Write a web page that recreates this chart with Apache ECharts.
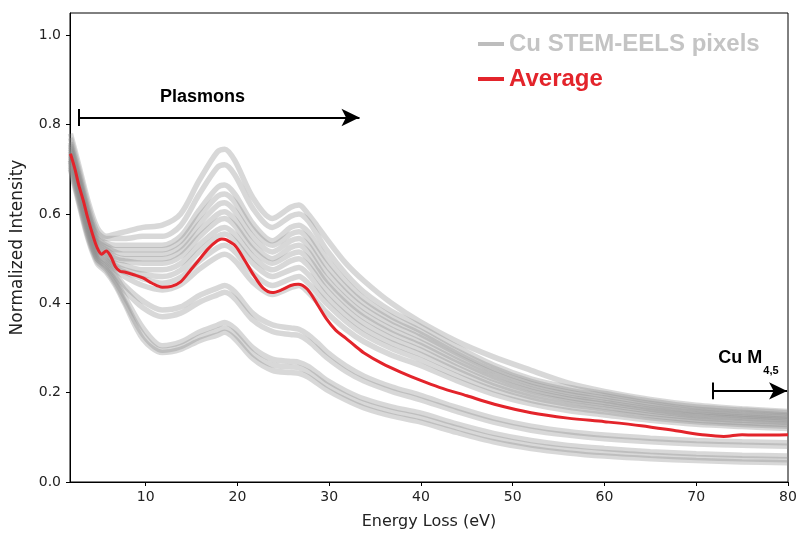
<!DOCTYPE html>
<html><head><meta charset="utf-8">
<script src="https://cdn.jsdelivr.net/npm/echarts@6/dist/echarts.min.js"></script>
<style>html,body{margin:0;padding:0;background:#fff}#c{width:800px;height:533px}</style>
</head><body><div id="c"></div>
<script>
// Energy grid (eV) of the individual pixel spectra
const energy = [1.8, 2.7, 3.7, 4.7, 5.7, 6.7, 7.7, 9.7, 11.8, 13.8, 15.8, 17.8, 18.6, 19.7, 21.7, 23.8, 25.8, 26.7, 27.7, 28.7, 29.7, 31.8, 33.8, 36.8, 39.8, 43.9, 47.9, 52, 56, 60, 65, 70, 75, 80];
// Normalized intensity of individual Cu STEM-EELS pixel spectra
const pixel01 = [0.78, 0.71, 0.63, 0.57, 0.55, 0.555, 0.56, 0.57, 0.575, 0.60, 0.674, 0.739, 0.745, 0.72, 0.636, 0.59, 0.615, 0.62, 0.60, 0.573, 0.545, 0.49, 0.45, 0.40, 0.36, 0.315, 0.28, 0.25, 0.222, 0.203, 0.185, 0.172, 0.164, 0.158];
const pixel02 = [0.77, 0.70, 0.62, 0.56, 0.545, 0.545, 0.545, 0.55, 0.55, 0.574, 0.643, 0.704, 0.71, 0.688, 0.612, 0.57, 0.595, 0.60, 0.585, 0.553, 0.52, 0.466, 0.425, 0.382, 0.35, 0.303, 0.262, 0.231, 0.212, 0.198, 0.181, 0.168, 0.161, 0.155];
const pixel03 = [0.76, 0.69, 0.61, 0.55, 0.535, 0.53, 0.53, 0.53, 0.53, 0.55, 0.608, 0.659, 0.665, 0.645, 0.578, 0.54, 0.57, 0.575, 0.56, 0.53, 0.50, 0.449, 0.41, 0.37, 0.34, 0.294, 0.255, 0.225, 0.206, 0.193, 0.176, 0.163, 0.156, 0.15];
const pixel04 = [0.755, 0.685, 0.605, 0.545, 0.53, 0.52, 0.52, 0.52, 0.52, 0.539, 0.593, 0.639, 0.645, 0.627, 0.565, 0.53, 0.555, 0.56, 0.545, 0.515, 0.485, 0.436, 0.40, 0.362, 0.333, 0.288, 0.249, 0.22, 0.201, 0.188, 0.172, 0.159, 0.152, 0.147];
const pixel05 = [0.75, 0.68, 0.60, 0.54, 0.525, 0.515, 0.51, 0.51, 0.51, 0.527, 0.577, 0.619, 0.625, 0.607, 0.548, 0.515, 0.54, 0.545, 0.53, 0.50, 0.47, 0.424, 0.389, 0.353, 0.325, 0.281, 0.243, 0.214, 0.196, 0.183, 0.167, 0.156, 0.149, 0.144];
const pixel06 = [0.745, 0.675, 0.595, 0.535, 0.52, 0.505, 0.50, 0.50, 0.50, 0.516, 0.561, 0.599, 0.605, 0.588, 0.532, 0.50, 0.525, 0.53, 0.515, 0.485, 0.455, 0.41, 0.377, 0.342, 0.315, 0.273, 0.236, 0.208, 0.19, 0.178, 0.163, 0.151, 0.145, 0.14];
const pixel07 = [0.74, 0.67, 0.59, 0.53, 0.515, 0.50, 0.495, 0.49, 0.49, 0.505, 0.548, 0.584, 0.59, 0.574, 0.52, 0.49, 0.51, 0.515, 0.50, 0.473, 0.445, 0.401, 0.368, 0.333, 0.307, 0.266, 0.23, 0.203, 0.186, 0.174, 0.159, 0.148, 0.142, 0.137];
const pixel08 = [0.735, 0.665, 0.585, 0.525, 0.51, 0.49, 0.485, 0.475, 0.475, 0.489, 0.53, 0.564, 0.57, 0.555, 0.504, 0.475, 0.495, 0.50, 0.485, 0.458, 0.43, 0.387, 0.355, 0.322, 0.297, 0.257, 0.222, 0.196, 0.18, 0.168, 0.154, 0.144, 0.138, 0.133];
const pixel09 = [0.73, 0.66, 0.58, 0.52, 0.505, 0.485, 0.475, 0.465, 0.46, 0.474, 0.515, 0.549, 0.555, 0.54, 0.489, 0.46, 0.475, 0.48, 0.465, 0.44, 0.415, 0.374, 0.343, 0.311, 0.287, 0.249, 0.215, 0.19, 0.174, 0.163, 0.149, 0.139, 0.133, 0.129];
const pixel10 = [0.725, 0.655, 0.575, 0.515, 0.50, 0.48, 0.47, 0.455, 0.445, 0.458, 0.494, 0.524, 0.53, 0.516, 0.467, 0.44, 0.455, 0.46, 0.445, 0.423, 0.40, 0.36, 0.33, 0.299, 0.275, 0.238, 0.207, 0.183, 0.168, 0.157, 0.144, 0.135, 0.129, 0.125];
const pixel11 = [0.72, 0.65, 0.57, 0.51, 0.495, 0.475, 0.46, 0.44, 0.43, 0.442, 0.476, 0.504, 0.51, 0.496, 0.447, 0.42, 0.435, 0.44, 0.425, 0.403, 0.38, 0.342, 0.314, 0.284, 0.262, 0.227, 0.197, 0.175, 0.16, 0.15, 0.138, 0.129, 0.124, 0.12];
const pixel12 = [0.72, 0.645, 0.565, 0.505, 0.49, 0.465, 0.44, 0.405, 0.385, 0.392, 0.417, 0.434, 0.44, 0.426, 0.377, 0.352, 0.345, 0.342, 0.33, 0.312, 0.292, 0.26, 0.237, 0.213, 0.195, 0.167, 0.143, 0.125, 0.113, 0.105, 0.098, 0.093, 0.09, 0.088];
const pixel13 = [0.715, 0.64, 0.56, 0.50, 0.485, 0.46, 0.43, 0.39, 0.37, 0.378, 0.402, 0.419, 0.425, 0.411, 0.362, 0.337, 0.33, 0.328, 0.316, 0.298, 0.279, 0.248, 0.226, 0.203, 0.185, 0.158, 0.134, 0.116, 0.105, 0.097, 0.09, 0.085, 0.082, 0.08];
const pixel14 = [0.71, 0.635, 0.555, 0.50, 0.48, 0.45, 0.415, 0.345, 0.305, 0.313, 0.335, 0.351, 0.357, 0.344, 0.30, 0.275, 0.27, 0.268, 0.259, 0.244, 0.228, 0.204, 0.186, 0.168, 0.155, 0.13, 0.109, 0.093, 0.082, 0.075, 0.068, 0.063, 0.06, 0.058];
const pixel15 = [0.705, 0.63, 0.55, 0.495, 0.475, 0.445, 0.405, 0.33, 0.295, 0.303, 0.324, 0.339, 0.345, 0.332, 0.287, 0.262, 0.258, 0.256, 0.247, 0.233, 0.218, 0.194, 0.176, 0.158, 0.145, 0.121, 0.099, 0.083, 0.073, 0.066, 0.06, 0.055, 0.052, 0.05];
const pixel16 = [0.70, 0.625, 0.545, 0.49, 0.47, 0.44, 0.40, 0.32, 0.29, 0.297, 0.316, 0.329, 0.335, 0.321, 0.276, 0.25, 0.245, 0.243, 0.235, 0.221, 0.207, 0.184, 0.166, 0.148, 0.135, 0.111, 0.09, 0.075, 0.065, 0.058, 0.052, 0.048, 0.045, 0.043];
const pixelSpectra = [pixel01, pixel02, pixel03, pixel04, pixel05, pixel06, pixel07, pixel08, pixel09, pixel10, pixel11, pixel12, pixel13, pixel14, pixel15, pixel16];

// Average spectrum
const avgEnergy = [1.8, 2.3, 2.7, 3.2, 3.7, 4.2, 4.7, 5.2, 5.7, 6.2, 6.7, 7.2, 7.7, 8.7, 9.7, 10.7, 11.8, 12.8, 13.8, 14.8, 15.8, 16.8, 17.8, 18.3, 18.8, 19.8, 20.8, 21.8, 22.8, 23.8, 24.8, 25.8, 26.6, 27.6, 28.7, 29.7, 30.7, 31.8, 32.8, 33.8, 35.8, 37.9, 39.9, 42, 45, 48, 52, 56, 60, 64, 68, 71, 73, 75, 77, 80];
const average = [0.735, 0.70, 0.665, 0.63, 0.59, 0.555, 0.525, 0.51, 0.517, 0.505, 0.482, 0.472, 0.47, 0.464, 0.457, 0.445, 0.436, 0.438, 0.448, 0.472, 0.497, 0.522, 0.54, 0.544, 0.542, 0.528, 0.496, 0.462, 0.434, 0.424, 0.43, 0.44, 0.443, 0.432, 0.398, 0.365, 0.34, 0.322, 0.305, 0.289, 0.265, 0.245, 0.228, 0.212, 0.193, 0.174, 0.155, 0.143, 0.135, 0.126, 0.114, 0.105, 0.102, 0.106, 0.105, 0.106];

const xTicks = [10, 20, 30, 40, 50, 60, 70, 80];
const yTicks = [0, 0.2, 0.4, 0.6, 0.8, 1.0];

const chart = echarts.init(document.getElementById('c'), null, {renderer: 'canvas'});
const RED = '#e3242b';
const series = pixelSpectra.map(s => ({
  type: 'line', name: 'Cu STEM-EELS pixels',
  data: energy.map((e, i) => [e, s[i]]),
  showSymbol: false, smooth: 0.3, silent: true, z: 2,
  lineStyle: {color: 'rgba(140,140,140,0.34)', width: 5.5},
  itemStyle: {color: '#bdbdbd'},
  emphasis: {disabled: true}
}));
series.push({
  type: 'line', name: 'Average',
  data: avgEnergy.map((e, i) => [e, average[i]]),
  showSymbol: false, smooth: 0.3, z: 5, silent: true,
  lineStyle: {color: RED, width: 3},
  itemStyle: {color: RED},
  emphasis: {disabled: true},
  markLine: {
    silent: true, animation: false,
    lineStyle: {color: '#000', width: 2, type: 'solid'},
    label: {show: false},
    symbolSize: [13, 18],
    data: [
      [{coord: [2.7, 0.816], symbol: 'none'}, {coord: [33.3, 0.816], symbol: 'arrow'}],
      [{coord: [2.7, 0.797], symbol: 'none'}, {coord: [2.7, 0.835], symbol: 'none'}],
      [{coord: [71.8, 0.204], symbol: 'none'}, {coord: [79.9, 0.204], symbol: 'arrow'}],
      [{coord: [71.8, 0.185], symbol: 'none'}, {coord: [71.8, 0.223], symbol: 'none'}]
    ]
  }
});

const axisFont = {color: '#222', fontSize: 14, fontFamily: 'DejaVu Sans'};
chart.setOption({
  animation: false,
  backgroundColor: '#fff',
  grid: {left: 70, right: 12, top: 13, bottom: 51, show: true, borderColor: '#000', borderWidth: 1, containLabel: false, outerBoundsMode: 'none'},
  legend: {
    orient: 'vertical', left: 478, top: 32, padding: 0, itemWidth: 26, itemHeight: 4, itemGap: 11,
    icon: 'rect', selectedMode: false,
    textStyle: {fontSize: 24, fontWeight: 'bold', fontFamily: 'Liberation Sans', lineHeight: 24},
    data: [
      {name: 'Cu STEM-EELS pixels', itemStyle: {color: '#bdbdbd'}, textStyle: {color: '#c4c4c4'}},
      {name: 'Average', itemStyle: {color: RED}, textStyle: {color: RED}}
    ]
  },
  xAxis: {
    type: 'value', min: 1.75, max: 80,
    name: 'Energy Loss (eV)', nameLocation: 'middle', nameGap: 32,
    nameTextStyle: {color: '#222', fontSize: 16, fontFamily: 'DejaVu Sans'},
    axisLine: {show: true, onZero: false, lineStyle: {color: '#000', width: 1}},
    axisTick: {show: true, length: 4, customValues: xTicks, lineStyle: {color: '#000'}},
    axisLabel: Object.assign({customValues: xTicks, margin: 8}, axisFont),
    splitLine: {show: false}
  },
  yAxis: {
    type: 'value', min: 0, max: 1.05,
    name: 'Normalized Intensity', nameLocation: 'middle', nameGap: 44,
    nameTextStyle: {color: '#222', fontSize: 17, fontFamily: 'DejaVu Sans'},
    axisLine: {show: true, onZero: false, lineStyle: {color: '#000', width: 1}},
    axisTick: {show: true, length: 4, customValues: yTicks, lineStyle: {color: '#000'}},
    axisLabel: Object.assign({customValues: yTicks, margin: 9, formatter: v => v.toFixed(1)}, axisFont),
    splitLine: {show: false}
  },
  series: series
});

const pPl = chart.convertToPixel({gridIndex: 0}, [16.2, 0.861]);
const pCu = chart.convertToPixel({gridIndex: 0}, [72.4, 0.258]);
chart.setOption({
  graphic: [
    {type: 'text', x: pPl[0], y: pPl[1], silent: true, z: 10,
     style: {text: 'Plasmons', fill: '#000', font: 'bold 18px "Liberation Sans"', align: 'center', verticalAlign: 'middle'}},
    {type: 'text', x: pCu[0], y: pCu[1], silent: true, z: 10,
     style: {text: 'Cu M', fill: '#000', font: 'bold 18px "Liberation Sans"', align: 'left', verticalAlign: 'bottom'}},
    {type: 'text', x: pCu[0] + 45, y: pCu[1] - 1, silent: true, z: 10,
     style: {text: '4,5', fill: '#000', font: 'bold 11px "Liberation Sans"', align: 'left', verticalAlign: 'top'}}
  ]
});
</script>
</body></html>
